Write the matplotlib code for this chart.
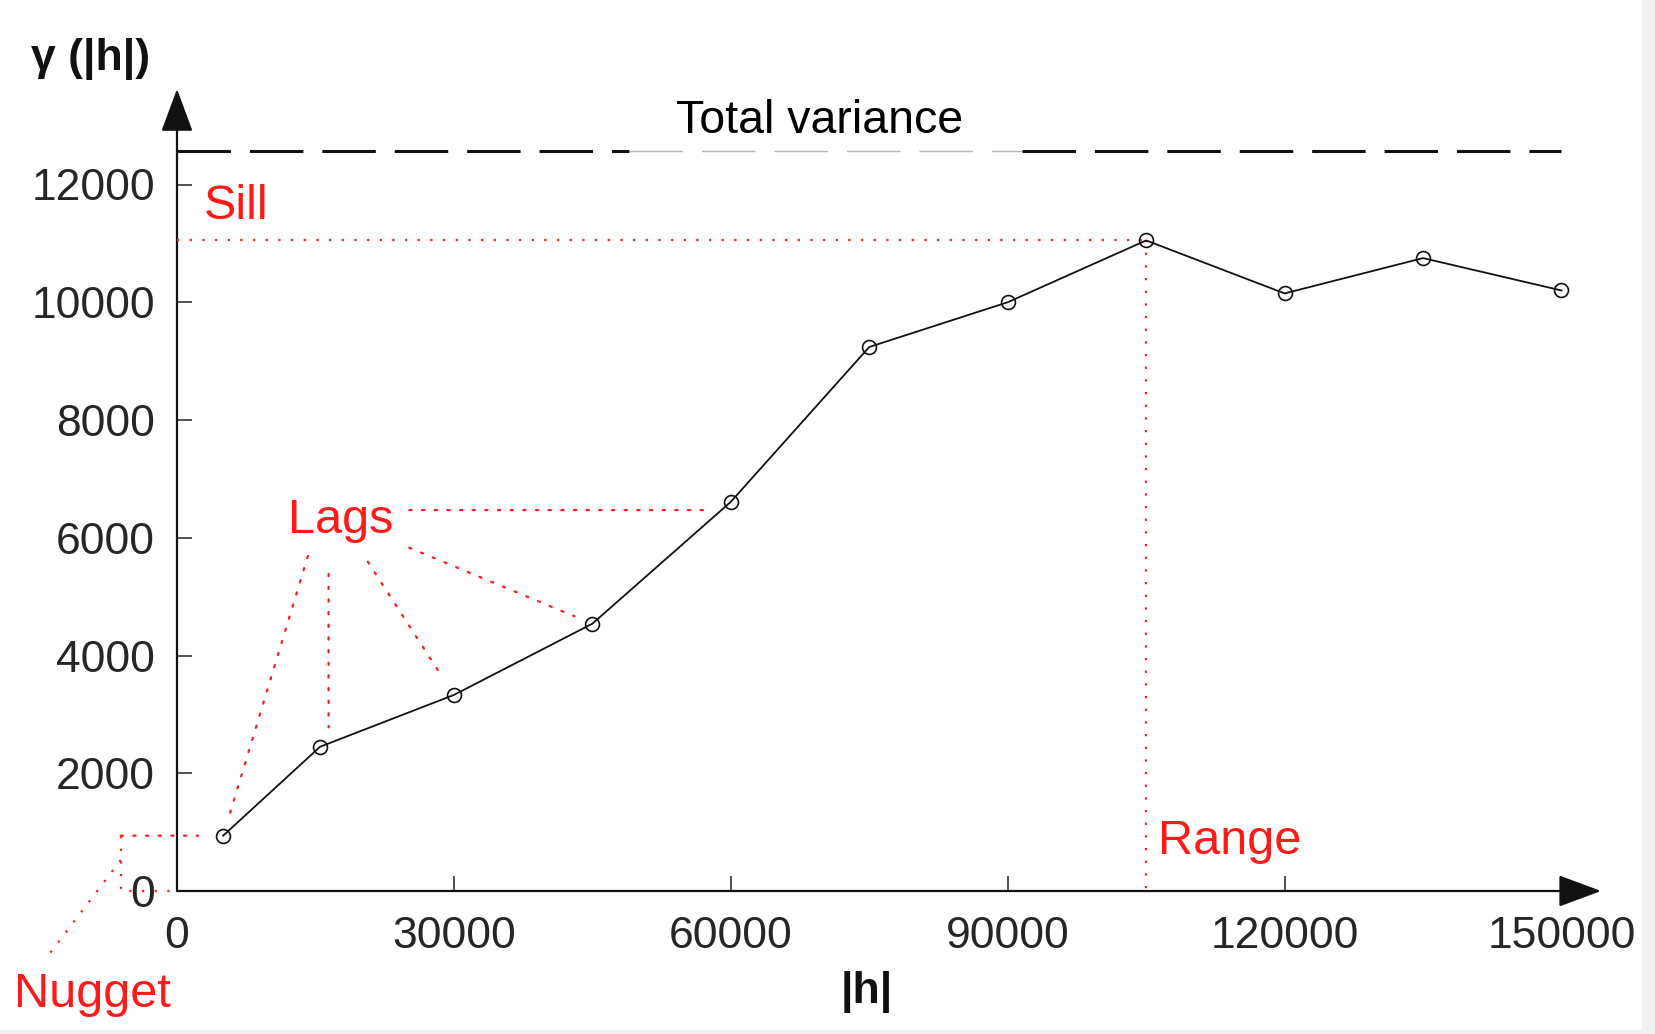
import matplotlib
matplotlib.use("Agg")
import matplotlib.pyplot as plt
from matplotlib.patches import Rectangle

# experimental semivariogram: lag distance |h| vs semivariance gamma
lag_h = [5000, 15500, 30000, 45000, 60000, 75000, 90000, 105000, 120000, 135000, 150000]
gamma = [940, 2450, 3330, 4540, 6610, 9240, 10000, 11050, 10150, 10750, 10200]
total_variance = 12570
sill_idx = 7  # lag where the sill / range is reached

x_ticks = [0, 30000, 60000, 90000, 120000, 150000]
y_ticks = [0, 2000, 4000, 6000, 8000, 10000, 12000]

RED = "#ff1a1a"
INK = "#111111"
W, H = 1656, 1034
X0, Y0 = 177, 891                 # pixel of the origin
SX, SY = 276.9 / 30000, 706.5 / 12000   # pixels per data unit
DOT = (0, (1, 4.7))

fig = plt.figure(figsize=(W / 100, H / 100), dpi=100)
fig.add_artist(Rectangle((1642 / W, 0), 1, 1, transform=fig.transFigure,
                         color="#f0f0f0", zorder=-1))
fig.add_artist(Rectangle((0, 0), 1, 4 / H, transform=fig.transFigure,
                         color="#f0f0f0", zorder=-1))

ax = fig.add_axes([0, 0, 1, 1])
ax.patch.set_visible(False)
ax.set_xlim(-X0 / SX, (W - X0) / SX)
ax.set_ylim(-(H - Y0) / SY, Y0 / SY)

for s in ax.spines.values():
    s.set_visible(False)
ax.spines["left"].set_position(("data", 0))
ax.spines["bottom"].set_position(("data", 0))

ax.set_xticks(x_ticks)
ax.set_xticklabels([str(t) for t in x_ticks])
ax.set_yticks(y_ticks)
ax.set_yticklabels([str(t) for t in y_ticks])
ax.tick_params(direction="in", length=11, width=1.2, color="#333333",
               labelsize=32, labelcolor="#262626")
ax.tick_params(axis="x", pad=18)
ax.tick_params(axis="y", pad=16)
for lab in ax.get_xticklabels() + ax.get_yticklabels():
    lab.set_fontfamily("Liberation Sans")

# axes with arrow heads
head = "-|>,head_length=27,head_width=10"
ax.annotate("", xy=(154300, 0), xytext=(0, 0), annotation_clip=False,
            arrowprops=dict(arrowstyle=head, mutation_scale=1, lw=1.6,
                            color=INK, shrinkA=0, shrinkB=0))
ax.annotate("", xy=(0, 13622), xytext=(0, 0), annotation_clip=False,
            arrowprops=dict(arrowstyle=head, mutation_scale=1, lw=1.6,
                            color=INK, shrinkA=0, shrinkB=0))

# total variance (dashes under the label are faint in the original)
dash = dict(lw=2.2, linestyle=(0, (17.5, 6.2)))
ax.plot([0, 49000], [total_variance] * 2, color=INK, **dash)
ax.plot([49000, 91500], [total_variance] * 2, color="#b5b5b5",
        lw=1.0, linestyle=(0, (38.5, 13.7)))
ax.plot([91500, 150000], [total_variance] * 2, color=INK, **dash)
ax.text(69610, 12870, "Total variance", fontsize=33.5, color="black",
        family="Liberation Sans", ha="center", va="baseline")

# sill and range
xs, ys = lag_h[sill_idx], gamma[sill_idx]
ax.plot([0, xs], [ys, ys], color=RED, lw=1.6, linestyle=DOT, zorder=4)
ax.plot([xs, xs], [ys, 0], color=RED, lw=1.6, linestyle=DOT, zorder=4)

# experimental points
ax.plot(lag_h, gamma, color=INK, lw=1.3, marker="o", ms=10, mfc="none",
        mec=INK, mew=1.2, zorder=5)


def leader(start, end, shrink):
    ax.annotate("", xy=end, xytext=start, annotation_clip=False,
                arrowprops=dict(arrowstyle="-", color=RED, lw=1.6,
                                linestyle=DOT, shrinkA=0, shrinkB=shrink),
                zorder=4)


# lags
leader((25170, 6470), (lag_h[4], 6470), 18)
leader((25170, 5831), (lag_h[3], gamma[3]), 14)
leader((20670, 5593), (lag_h[2], gamma[2]), 15)
leader((16420, 5384), (16420, gamma[1]), 14)
leader((14180, 5690), (lag_h[0], gamma[0]), 10)

# nugget
leader((-6100, gamma[0]), (lag_h[0], gamma[0]), 18)
ax.plot([-6100, -6100, 0], [gamma[0], 0, 0], color=RED, lw=1.6,
        linestyle=DOT, zorder=4, clip_on=False)
ax.plot([-6100, -14150], [527, -1138], color=RED, lw=1.6,
        linestyle=DOT, zorder=4, clip_on=False)

lbl = dict(color=RED, fontsize=35, family="Liberation Sans",
           ha="left", va="baseline")
ax.text(-17670, -1965, "Nugget", **lbl)
ax.text(2916, 11420, "Sill", **lbl)
ax.text(12020, 6076, "Lags", **lbl)
ax.text(106300, 628, "Range", **lbl)

ax.text(-15810, 13945, "\u03b3 (|h|)", fontsize=32, fontweight="bold",
        family="Liberation Sans", color=INK, ha="left", va="baseline")
ax.text(74690, -1894, "|h|", fontsize=32, fontweight="bold",
        family="Liberation Sans", color=INK, ha="center", va="baseline")

fig.savefig("out.png", dpi=100)
